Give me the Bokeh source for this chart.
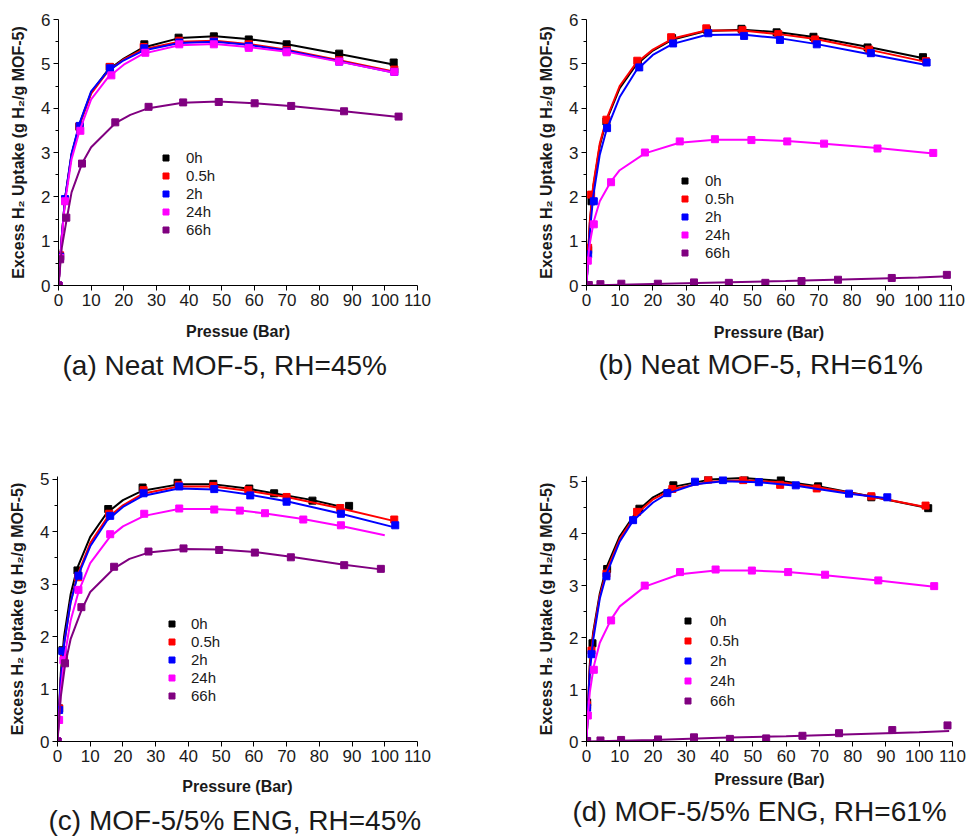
from bokeh.plotting import figure
from bokeh.models import Range1d, FixedTicker, Legend, LegendItem
from bokeh.layouts import row, column
from bokeh.embed import file_html
from bokeh.resources import INLINE

SERIES = ["0h", "0.5h", "2h", "24h", "66h"]
COLORS = ["#000000", "#ff0000", "#0000ff", "#ff00ff", "#800080"]
X_TICKS = [0, 10, 20, 30, 40, 50, 60, 70, 80, 90, 100, 110]
Y_LABEL = "Excess H\u2082 Uptake (g H\u2082/g MOF-5)"

# ---------------- (a) Neat MOF-5, RH=45% ----------------
A_0H_X = [0, 0.5, 2.0, 6.4, 15.7, 26.3, 36.8, 47.6, 58.3, 69.9, 86.0, 102.7]
A_0H_Y = [0, 0.65, 1.92, 3.58, 4.93, 5.44, 5.59, 5.62, 5.55, 5.44, 5.23, 5.03]
A_05H_X = [0, 0.5, 2.0, 6.4, 15.7, 26.1, 37.0, 47.6, 58.3, 69.9, 86.0, 102.9]
A_05H_Y = [0, 0.68, 1.92, 3.59, 4.93, 5.38, 5.52, 5.52, 5.44, 5.31, 5.08, 4.87]
A_2H_X = [0, 0.5, 2.0, 6.5, 15.8, 26.3, 37.0, 47.6, 58.3, 69.9, 86.0, 102.9]
A_2H_Y = [0, 0.65, 1.95, 3.60, 4.90, 5.35, 5.48, 5.50, 5.40, 5.28, 5.05, 4.82]
A_24H_X = [0, 0.5, 2.0, 6.7, 16.2, 26.6, 37.0, 47.6, 58.3, 69.9, 86.0, 102.9]
A_24H_Y = [0, 0.62, 1.90, 3.49, 4.74, 5.25, 5.44, 5.44, 5.36, 5.26, 5.05, 4.82]
A_66H_X = [0, 0.5, 2.4, 7.2, 17.4, 27.6, 38.2, 49.1, 60.1, 71.3, 87.5, 104.2]
A_66H_Y = [0, 0.59, 1.53, 2.75, 3.68, 4.03, 4.13, 4.14, 4.11, 4.05, 3.93, 3.81]
# fitted curves
A_FIT_X = [0, 1, 2, 4, 6.5, 10, 15, 20, 26, 37, 48, 58, 70, 86, 103]
A_FIT_0H = [0, 1.1, 1.95, 2.95, 3.65, 4.35, 4.85, 5.12, 5.37, 5.58, 5.62, 5.56, 5.44, 5.22, 4.98]
A_FIT_05H = [0, 1.1, 1.95, 2.95, 3.63, 4.33, 4.82, 5.10, 5.33, 5.50, 5.52, 5.45, 5.32, 5.08, 4.82]
A_FIT_2H = [0, 1.1, 1.97, 2.98, 3.67, 4.38, 4.83, 5.08, 5.30, 5.47, 5.50, 5.43, 5.30, 5.06, 4.80]
A_FIT_24H = [0, 1.05, 1.88, 2.85, 3.50, 4.20, 4.68, 4.98, 5.23, 5.42, 5.45, 5.38, 5.27, 5.05, 4.80]
A_FIT66_X = [0, 1, 2.4, 4, 7.2, 10, 17.4, 22, 27.6, 38, 49, 60, 71, 87.5, 104.2]
A_FIT_66H = [0, 0.85, 1.45, 2.10, 2.75, 3.12, 3.66, 3.85, 4.00, 4.12, 4.15, 4.11, 4.05, 3.93, 3.80]

# ---------------- (b) Neat MOF-5, RH=61% ----------------
B_0H_X = [0, 0.5, 1.5, 6.0, 15.5, 25.8, 36.3, 46.7, 57.3, 68.4, 84.7, 101.4]
B_0H_Y = [0, 0.80, 1.90, 3.70, 5.03, 5.58, 5.77, 5.79, 5.71, 5.61, 5.37, 5.15]
B_05H_X = [0, 0.5, 1.4, 6.0, 15.3, 25.5, 36.1, 47.0, 57.8, 68.9, 85.2, 102.3]
B_05H_Y = [0, 0.85, 2.05, 3.74, 5.07, 5.60, 5.80, 5.76, 5.67, 5.55, 5.32, 5.06]
B_2H_X = [0, 0.5, 2.2, 6.2, 15.9, 26.1, 36.7, 47.5, 58.3, 69.4, 85.7, 102.5]
B_2H_Y = [0, 0.70, 1.90, 3.55, 4.92, 5.46, 5.69, 5.63, 5.54, 5.44, 5.24, 5.03]
B_24H_X = [0, 0.4, 2.2, 7.4, 17.6, 28.1, 38.7, 49.7, 60.5, 71.6, 87.7, 104.5]
B_24H_Y = [0, 0.56, 1.38, 2.33, 3.00, 3.25, 3.30, 3.28, 3.25, 3.20, 3.09, 2.99]
B_66H_X = [0.7, 4.2, 10.5, 21.5, 32.4, 42.9, 53.9, 64.8, 75.8, 92.0, 108.6]
B_66H_Y = [0.01, 0.03, 0.04, 0.04, 0.07, 0.06, 0.06, 0.10, 0.13, 0.17, 0.24]
B_FIT_X = [0, 1, 2, 4, 6, 10, 15, 20, 26, 36, 47, 58, 69, 85, 102]
B_FIT_0H = [0, 1.40, 2.20, 3.15, 3.72, 4.45, 4.98, 5.30, 5.55, 5.74, 5.77, 5.71, 5.60, 5.38, 5.12]
B_FIT_05H = [0, 1.45, 2.25, 3.20, 3.75, 4.50, 5.02, 5.32, 5.57, 5.75, 5.75, 5.67, 5.56, 5.32, 5.05]
B_FIT_2H = [0, 1.20, 2.00, 2.95, 3.50, 4.25, 4.85, 5.20, 5.45, 5.65, 5.66, 5.58, 5.45, 5.22, 4.98]
B_FIT24_X = [0, 0.4, 1, 2.2, 4, 7.4, 10, 17.6, 28, 38.7, 49.7, 60.5, 71.6, 87.7, 104.5]
B_FIT_24H = [0, 0.56, 0.95, 1.45, 1.90, 2.35, 2.60, 2.98, 3.22, 3.29, 3.29, 3.26, 3.20, 3.10, 2.98]
B_FIT66_X = [0, 20, 40, 60, 80, 100, 109]
B_FIT_66H = [0, 0.035, 0.07, 0.10, 0.14, 0.18, 0.21]

# ---------------- (c) MOF-5/5% ENG, RH=45% ----------------
C_0H_X = [0, 0.5, 1.5, 6.1, 15.5, 26.0, 36.7, 47.6, 58.6, 66.2, 77.9, 89.1]
C_0H_Y = [0, 0.63, 1.74, 3.26, 4.43, 4.84, 4.93, 4.91, 4.82, 4.73, 4.59, 4.49]
C_05H_X = [0, 0.5, 2.0, 6.3, 15.8, 26.3, 37.0, 47.6, 58.3, 70.0, 86.4, 102.9]
C_05H_Y = [0, 0.63, 1.60, 3.13, 4.34, 4.79, 4.89, 4.87, 4.79, 4.66, 4.45, 4.23]
C_2H_X = [0, 0.5, 1.5, 6.4, 16.1, 26.3, 37.2, 47.9, 58.9, 70.0, 86.6, 103.2]
C_2H_Y = [0, 0.60, 1.72, 3.16, 4.30, 4.73, 4.86, 4.81, 4.69, 4.57, 4.34, 4.12]
C_24H_X = [0, 0.5, 1.8, 6.4, 16.1, 26.5, 37.2, 47.9, 55.7, 63.4, 75.1, 86.6]
C_24H_Y = [0, 0.41, 1.55, 2.89, 3.95, 4.34, 4.44, 4.42, 4.40, 4.35, 4.23, 4.12]
C_66H_X = [0, 2.3, 7.3, 17.3, 27.8, 38.5, 49.4, 60.3, 71.3, 87.6, 98.8]
C_66H_Y = [0, 1.49, 2.56, 3.33, 3.62, 3.68, 3.65, 3.60, 3.51, 3.36, 3.29]
C_FIT0_X = [0, 1, 2, 4, 6, 10, 15, 20, 26, 37, 48, 58, 66, 78, 87]
C_FIT_0H = [0, 1.30, 2.00, 2.80, 3.30, 3.90, 4.35, 4.60, 4.78, 4.90, 4.90, 4.82, 4.73, 4.60, 4.47]
C_FIT_X = [0, 1, 2, 4, 6, 10, 15, 20, 26, 37, 48, 58, 70, 86, 103]
C_FIT_05H = [0, 1.20, 1.85, 2.65, 3.15, 3.78, 4.25, 4.50, 4.72, 4.86, 4.86, 4.78, 4.66, 4.45, 4.20]
C_FIT_2H = [0, 1.20, 1.85, 2.65, 3.12, 3.72, 4.20, 4.47, 4.68, 4.82, 4.80, 4.71, 4.58, 4.35, 4.08]
C_FIT24_X = [0, 1, 2, 4, 6.4, 10, 16, 20, 26.5, 37, 48, 56, 63, 75, 87, 100]
C_FIT_24H = [0, 0.95, 1.55, 2.30, 2.85, 3.40, 3.90, 4.10, 4.30, 4.43, 4.43, 4.40, 4.35, 4.24, 4.10, 3.93]
C_FIT66_X = [0, 1, 2.3, 4, 7.3, 10, 17.3, 22, 27.8, 38.5, 49.4, 60.3, 71.3, 87.6, 98.8]
C_FIT_66H = [0, 0.85, 1.45, 1.95, 2.50, 2.85, 3.30, 3.48, 3.60, 3.67, 3.66, 3.61, 3.52, 3.37, 3.28]

# ---------------- (d) MOF-5/5% ENG, RH=61% ----------------
D_0H_X = [0, 0.2, 1.8, 6.2, 15.9, 26.1, 36.6, 47.5, 58.4, 69.6, 85.6, 102.7]
D_0H_Y = [0, 0.75, 1.89, 3.32, 4.48, 4.93, 5.05, 5.08, 5.03, 4.91, 4.70, 4.49]
D_05H_X = [0, 0.2, 1.5, 6.0, 15.2, 25.8, 36.6, 47.1, 58.2, 69.2, 85.6, 101.9]
D_05H_Y = [0, 0.70, 1.75, 3.23, 4.42, 4.86, 5.04, 5.03, 4.94, 4.87, 4.72, 4.54]
D_2H_X = [0, 0.2, 1.5, 6.0, 14.0, 24.3, 32.6, 41.0, 51.8, 62.9, 78.9, 90.4]
D_2H_Y = [0, 0.65, 1.68, 3.18, 4.26, 4.78, 5.00, 5.03, 4.99, 4.93, 4.77, 4.70]
D_24H_X = [0, 0.4, 2.2, 7.4, 17.5, 28.1, 38.8, 49.7, 60.6, 71.7, 87.7, 104.5]
D_24H_Y = [0, 0.50, 1.38, 2.33, 3.00, 3.26, 3.31, 3.29, 3.26, 3.21, 3.10, 2.99]
D_66H_X = [0.2, 4.2, 10.4, 21.5, 32.3, 43.1, 54.0, 64.9, 75.9, 91.9, 108.5]
D_66H_Y = [0.01, 0.02, 0.03, 0.04, 0.08, 0.05, 0.06, 0.11, 0.16, 0.22, 0.31]
D_FIT_X = [0, 1, 2, 4, 6, 10, 15, 20, 26, 37, 47, 58, 70, 86, 103]
D_FIT_0H = [0, 1.50, 2.10, 2.85, 3.35, 3.95, 4.42, 4.70, 4.90, 5.04, 5.07, 5.02, 4.91, 4.71, 4.49]
D_FIT_05H = [0, 1.45, 2.05, 2.80, 3.28, 3.90, 4.38, 4.66, 4.86, 5.00, 5.03, 4.99, 4.89, 4.71, 4.50]
D_FIT2_X = [0, 1, 2, 4, 6, 10, 14, 20, 24.3, 32.6, 41, 52, 63, 79, 90.4]
D_FIT_2H = [0, 1.35, 1.95, 2.75, 3.22, 3.85, 4.25, 4.60, 4.77, 4.95, 5.01, 4.99, 4.92, 4.77, 4.68]
D_FIT24_X = [0, 0.4, 1, 2.2, 4, 7.4, 10, 17.5, 28, 38.8, 49.7, 60.6, 71.7, 87.7, 104.5]
D_FIT_24H = [0, 0.50, 0.95, 1.45, 1.90, 2.35, 2.60, 2.98, 3.22, 3.29, 3.29, 3.26, 3.20, 3.10, 2.98]
D_FIT66_X = [0, 20, 40, 60, 80, 100, 109]
D_FIT_66H = [0, 0.03, 0.07, 0.10, 0.14, 0.18, 0.20]

TEXT_COLOR = "#1a1a1a"
FONT = "Liberation Sans"


def make_panel(markers, fits, caption, xlabel, y_max, y_ticks, y_minor,
               dims, legend_xy, legend_spacing, legend_standoff,
               caption_offset, xlab_standoff, title_standoff):
    w, h, bl, br, bt, bb = dims
    p = figure(width=w, height=h, x_range=Range1d(0, 110), y_range=Range1d(0, y_max),
               output_backend="svg", toolbar_location=None,
               title=caption, title_location="below",
               min_border_left=bl, min_border_right=br,
               min_border_top=bt, min_border_bottom=bb)
    p.outline_line_color = None
    p.xgrid.visible = False
    p.ygrid.visible = False
    p.background_fill_color = "white"
    p.border_fill_color = "white"

    xa = p.xaxis[0]
    ya = p.yaxis[0]
    xa.ticker = FixedTicker(ticks=X_TICKS, minor_ticks=[])
    ya.ticker = FixedTicker(ticks=y_ticks, minor_ticks=y_minor)
    for ax in (xa, ya):
        ax.axis_line_color = "black"
        ax.axis_line_width = 1
        ax.major_tick_line_color = "black"
        ax.minor_tick_line_color = "black"
        ax.major_tick_out = 5
        ax.major_tick_in = 0
        ax.minor_tick_out = 3
        ax.minor_tick_in = 0
        ax.major_label_text_font = FONT
        ax.major_label_text_font_size = "17px"
        ax.major_label_text_color = TEXT_COLOR
        ax.axis_label_text_font = FONT
        ax.axis_label_text_font_size = "16px"
        ax.axis_label_text_font_style = "bold"
        ax.axis_label_text_color = TEXT_COLOR
    xa.axis_label = xlabel
    xa.major_label_standoff = 3
    xa.axis_label_standoff = xlab_standoff
    ya.axis_label = Y_LABEL
    ya.major_label_standoff = 3
    ya.axis_label_standoff = 11

    p.title.text_font = FONT
    p.title.text_font_size = "28px"
    p.title.text_font_style = "normal"
    p.title.text_color = TEXT_COLOR
    p.title.align = "left"
    p.title.offset = caption_offset
    p.title.standoff = title_standoff

    items = []
    for name, color, (mx, my), (fx, fy) in zip(SERIES, COLORS, markers, fits):
        p.line(fx, fy, line_color=color, line_width=2)
        r = p.scatter(mx, my, marker="square", size=7, fill_color=color, line_color=color)
        items.append(LegendItem(label=name, renderers=[r]))

    legend = Legend(items=items, location=legend_xy, orientation="vertical",
                    glyph_width=15, glyph_height=15, label_height=18,
                    spacing=legend_spacing, padding=0, margin=0,
                    label_standoff=legend_standoff,
                    label_text_font=FONT, label_text_font_size="15px",
                    label_text_color=TEXT_COLOR,
                    border_line_color=None, background_fill_alpha=0)
    p.add_layout(legend)
    return p


Y6 = [0, 1, 2, 3, 4, 5, 6]
Y6_MINOR = [0.5, 1.5, 2.5, 3.5, 4.5, 5.5]
Y5 = [0, 1, 2, 3, 4, 5]
Y5_MINOR = [0.5, 1.5, 2.5, 3.5, 4.5]

pa = make_panel(
    [(A_0H_X, A_0H_Y), (A_05H_X, A_05H_Y), (A_2H_X, A_2H_Y), (A_24H_X, A_24H_Y), (A_66H_X, A_66H_Y)],
    [(A_FIT_X, A_FIT_0H), (A_FIT_X, A_FIT_05H), (A_FIT_X, A_FIT_2H), (A_FIT_X, A_FIT_24H), (A_FIT66_X, A_FIT_66H)],
    "(a) Neat MOF-5, RH=45%", "Pressue (Bar)", 6, Y6, Y6_MINOR,
    (478, 438, 58, 61, 19, 153), (100, 47), 0, 13, 4, 14, 11)

pb = make_panel(
    [(B_0H_X, B_0H_Y), (B_05H_X, B_05H_Y), (B_2H_X, B_2H_Y), (B_24H_X, B_24H_Y), (B_66H_X, B_66H_Y)],
    [(B_FIT_X, B_FIT_0H), (B_FIT_X, B_FIT_05H), (B_FIT_X, B_FIT_2H), (B_FIT24_X, B_FIT_24H), (B_FIT66_X, B_FIT_66H)],
    "(b) Neat MOF-5, RH=61%", "Pressure (Bar)", 6, Y6, Y6_MINOR,
    (489, 438, 108, 16, 19, 149), (91, 24), 0, 13, 12, 15, 6)

pc = make_panel(
    [(C_0H_X, C_0H_Y), (C_05H_X, C_05H_Y), (C_2H_X, C_2H_Y), (C_24H_X, C_24H_Y), (C_66H_X, C_66H_Y)],
    [(C_FIT0_X, C_FIT_0H), (C_FIT_X, C_FIT_05H), (C_FIT_X, C_FIT_2H), (C_FIT24_X, C_FIT_24H), (C_FIT66_X, C_FIT_66H)],
    "(c) MOF-5/5% ENG, RH=45%", "Pressure (Bar)", 5.05, Y5, Y5_MINOR,
    (478, 402, 57, 61, 35, 98), (107, 37), 0, 12, -9, 13, 10)

pd_ = make_panel(
    [(D_0H_X, D_0H_Y), (D_05H_X, D_05H_Y), (D_2H_X, D_2H_Y), (D_24H_X, D_24H_Y), (D_66H_X, D_66H_Y)],
    [(D_FIT_X, D_FIT_0H), (D_FIT_X, D_FIT_05H), (D_FIT2_X, D_FIT_2H), (D_FIT24_X, D_FIT_24H), (D_FIT66_X, D_FIT_66H)],
    "(d) MOF-5/5% ENG, RH=61%", "Pressure (Bar)", 5.1, Y5, Y5_MINOR,
    (489, 402, 108, 15, 38, 93), (94, 32), 2, 15, -14, 6, 6)

layout = column(row(pa, pb), row(pc, pd_))

open("out.html", "w").write(file_html(layout, INLINE))
